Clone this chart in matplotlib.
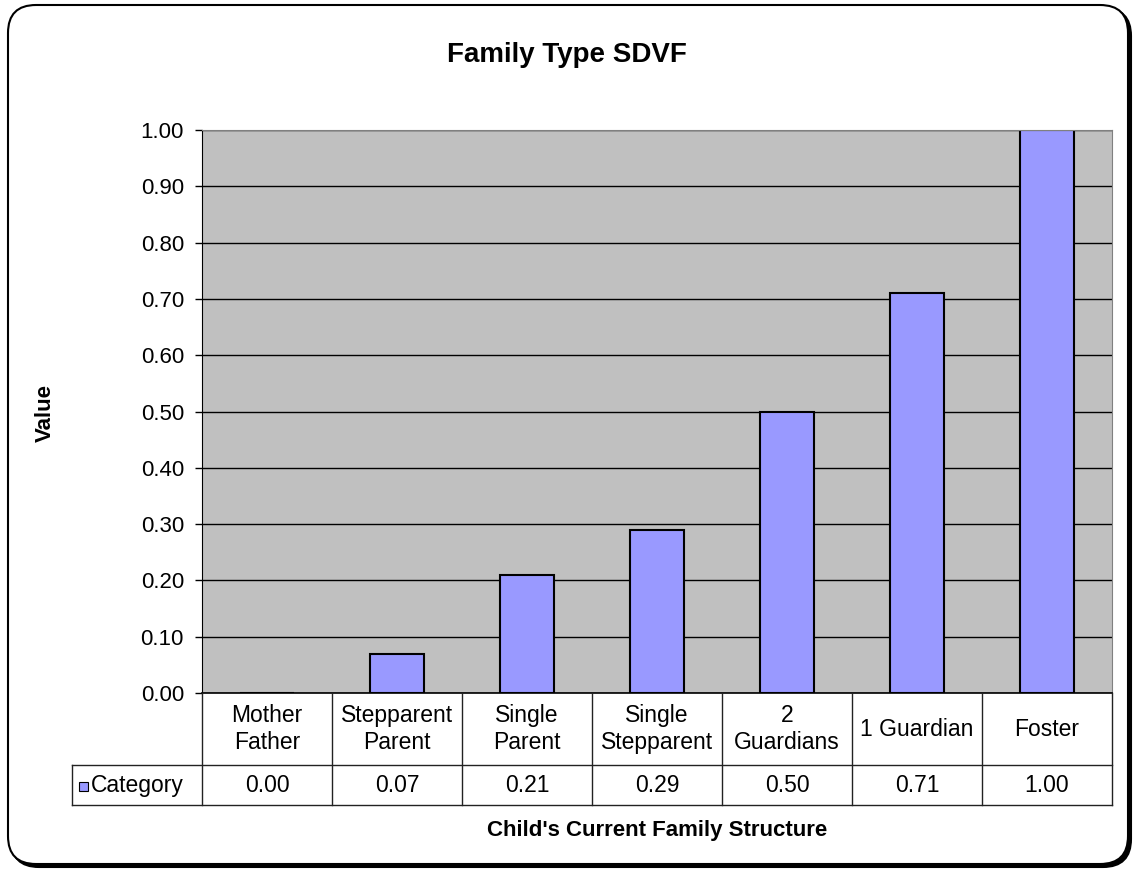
import numpy as np
import matplotlib
matplotlib.use("Agg")
import matplotlib.pyplot as plt
from matplotlib.patches import FancyBboxPatch, Rectangle

plt.rcParams['font.family'] = ['Liberation Sans', 'DejaVu Sans']

# data
categories = ["Mother\nFather", "Stepparent\nParent", "Single\nParent",
              "Single\nStepparent", "2\nGuardians", "1 Guardian", "Foster"]
values = [0.00, 0.07, 0.21, 0.29, 0.50, 0.71, 1.00]
series_name = "Category"
yticks = np.arange(0, 1.01, 0.1)

W, H = 1133, 871
BAR_COLOR = "#9999FF"

fig = plt.figure(figsize=(W / 100, H / 100), dpi=100)

# chart frame with a drop shadow, in pixel units
px = fig.dpi_scale_trans
shadow = FancyBboxPatch((0.11, 0.04), 11.20, 8.59,
                        boxstyle="round,pad=0,rounding_size=0.28",
                        transform=px, facecolor="black", edgecolor="black",
                        linewidth=1.5, zorder=-2)
frame = FancyBboxPatch((0.08, 0.07), 11.20, 8.59,
                       boxstyle="round,pad=0,rounding_size=0.28",
                       transform=px, facecolor="white", edgecolor="black",
                       linewidth=1.5, zorder=-1)
fig.patches.extend([shadow, frame])

# plot area
left, right, top, bottom = 202, 1112, 130, 693
ax = fig.add_axes([left / W, 1 - bottom / H, (right - left) / W, (bottom - top) / H])
ax.set_facecolor("#C0C0C0")
x = np.arange(len(categories))
ax.bar(x, values, width=0.42, color=BAR_COLOR, edgecolor="black",
       linewidth=1.5, zorder=2)
ax.set_xlim(-0.5, len(categories) - 0.5)
ax.set_ylim(0, 1.0)
ax.set_yticks(yticks)
ax.set_yticklabels(["%.2f" % t for t in yticks])
ax.yaxis.grid(True, color="black", linewidth=1, zorder=1)
ax.set_axisbelow(True)
ax.tick_params(axis="y", direction="out", length=5, width=1, pad=8,
               labelsize=16, colors="black")
ax.tick_params(axis="x", bottom=False, labelbottom=False)
for side in ["top", "right"]:
    ax.spines[side].set_color("#808080")
ax.spines["bottom"].set_color("black")
ax.spines["left"].set_color("black")
ax.spines["bottom"].set_linewidth(1.2)

# data table under the plot
t_left, t_bottom = 72, 805
tax = fig.add_axes([t_left / W, 1 - t_bottom / H, (right - t_left) / W, (t_bottom - bottom) / H])
tax.set_xlim(-1.5, len(categories) - 0.5)
tax.set_ylim(0, t_bottom - bottom)
tax.axis("off")
row_h = 40
top_h = t_bottom - bottom
lc = "#222222"
tax.plot([-1.5, len(categories) - 0.5], [0, 0], color=lc, lw=1, clip_on=False)
tax.plot([-1.5, len(categories) - 0.5], [row_h, row_h], color=lc, lw=1, clip_on=False)
tax.plot([-1.5, -1.5], [0, row_h], color=lc, lw=1, clip_on=False)
for b in np.arange(len(categories) + 1) - 0.5:
    tax.plot([b, b], [0, top_h], color=lc, lw=1, clip_on=False)

for i, (cat, v) in enumerate(zip(categories, values)):
    tax.text(i, (row_h + top_h) / 2, cat, ha="center", va="center",
             fontsize=16.5, linespacing=1.2)
    tax.text(i, row_h / 2, "%.2f" % v, ha="center", va="center", fontsize=16.5)

tax.add_patch(Rectangle((-1.5 + 7 / 130, 14), 9 / 130, 9, facecolor=BAR_COLOR,
                        edgecolor="black", linewidth=0.8, clip_on=False))
tax.text(-1.5 + 19 / 130, row_h / 2, series_name, ha="left", va="center", fontsize=16.5)

# titles
fig.text(567 / W, 1 - 55 / H, "Family Type SDVF", ha="center", va="center",
         fontsize=20, fontweight="bold")
fig.text(45 / W, 1 - 413 / H, "Value", ha="center", va="center", rotation=90,
         fontsize=16, fontweight="bold")
fig.text((left + right) / 2 / W, 1 - 830 / H, "Child's Current Family Structure",
         ha="center", va="center", fontsize=16, fontweight="bold")

fig.savefig("out.png", dpi=100)
